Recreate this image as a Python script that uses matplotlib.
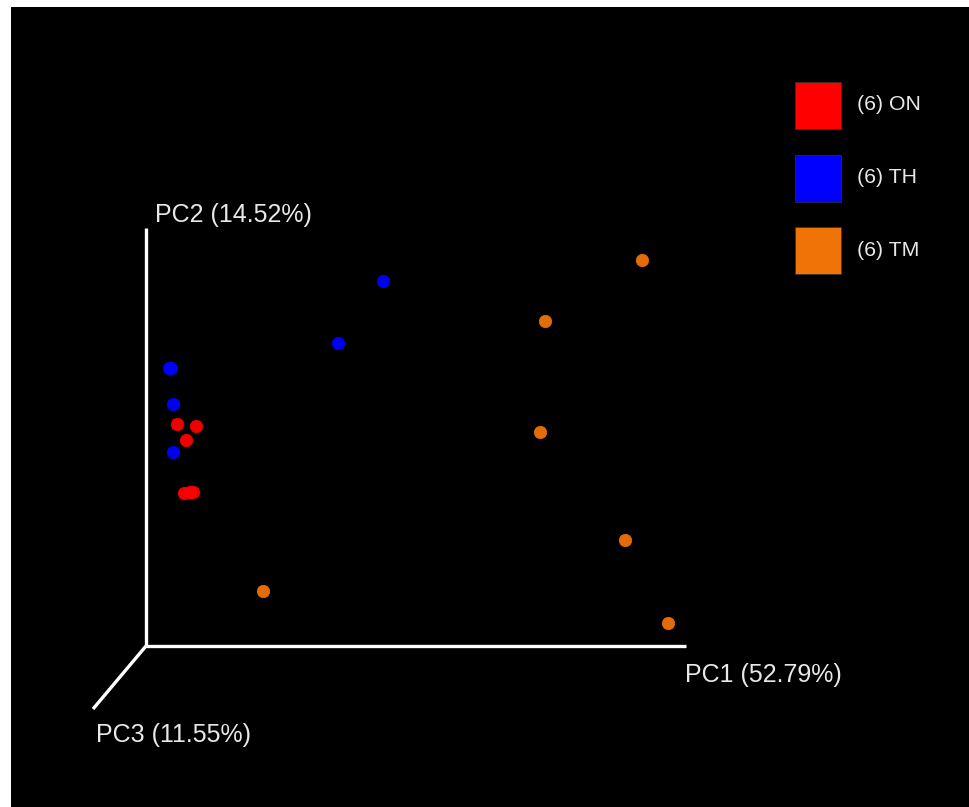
import matplotlib.pyplot as plt
from matplotlib.patches import Rectangle

plt.rcParams['font.family'] = ['Liberation Sans', 'DejaVu Sans']

# projected PCoA coordinates (screen plane, origin at axes corner)
groups = ['ON', 'TH', 'TM']
counts = [6, 6, 6]
colors = ['#ff0000', '#0000ff', '#f07308']
xs = {
    'ON': [31, 50, 40, 38, 44, 47],
    'TH': [23, 25, 27, 27, 192, 237],
    'TM': [496, 399, 394, 479, 522, 117],
}
ys = {
    'ON': [222, 220, 206, 153, 154, 154],
    'TH': [278, 278, 242, 194, 303, 365],
    'TM': [386, 325, 214, 106, 23, 55],
}
axis_labels = ['PC1 (52.79%)', 'PC2 (14.52%)', 'PC3 (11.55%)']

fig = plt.figure(figsize=(9.7, 8.07), dpi=100, facecolor='white')
ax = fig.add_axes([11 / 970, 0, 959 / 970, 800 / 807])
ax.set_facecolor('black')
ax.set_xlim(-135, 824)
ax.set_ylim(-161, 639)
ax.axis('off')
ax.add_patch(Rectangle((-135, -161), 959, 800, color='black', zorder=0))

# axes of the 3d frame
lw = 2.4
ax.plot([0, 540], [0, 0], color='white', lw=lw, solid_capstyle='butt')
ax.plot([0, 0], [0, 418], color='white', lw=lw, solid_capstyle='butt')
ax.plot([0, -53], [0, -63], color='white', lw=lw, solid_capstyle='butt')

tc = '#e8e8e8'
ax.text(539, -29, axis_labels[0], color=tc, fontsize=18, va='center', ha='left')
ax.text(9, 431, axis_labels[1], color=tc, fontsize=18, va='center', ha='left')
ax.text(-50, -89, axis_labels[2], color=tc, fontsize=18, va='center', ha='left')

for g, c in zip(groups, colors):
    ax.scatter(xs[g], ys[g], s=80, c=c, edgecolors=c, linewidths=0.5,
               alpha=0.95, zorder=3)

# legend
for i, (g, n, c) in enumerate(zip(groups, counts, colors)):
    top = 564 - i * 72.5
    ax.add_patch(Rectangle((649, top - 47), 46, 47, facecolor=c,
                           edgecolor='#333333', lw=0.5, zorder=4))
    ax.text(711, top - 23, f'({n}) {g}', color=tc, fontsize=15.3,
            va='center', ha='left')

fig.savefig('out.png', dpi=100, facecolor='white')
